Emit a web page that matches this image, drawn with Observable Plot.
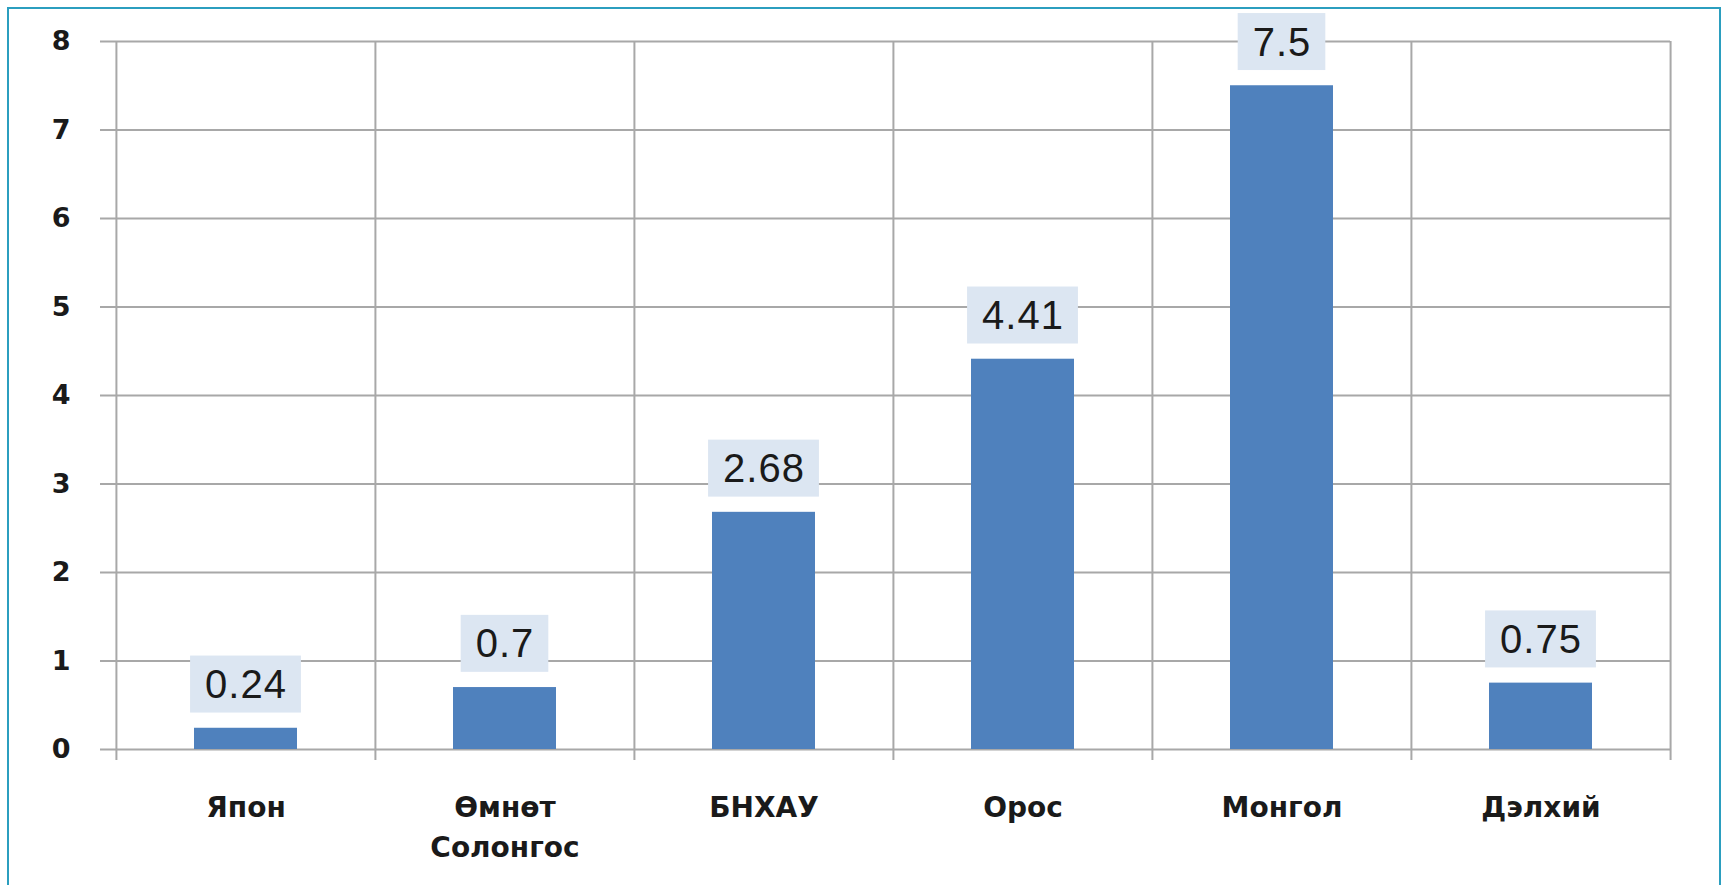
<!DOCTYPE html>
<html><head><meta charset="utf-8">
<script src="https://cdn.jsdelivr.net/npm/d3@7"></script>
<script src="https://cdn.jsdelivr.net/npm/@observablehq/plot@0.6"></script>
<style>
html,body{margin:0;padding:0;background:#fff;}
#wrap{position:relative;width:1725px;height:885px;overflow:hidden;}
#border{position:absolute;left:7px;top:7px;width:1714px;height:900px;border:2px solid #2B9EBF;box-sizing:border-box;pointer-events:none;}
</style></head><body>
<div id="wrap"><div id="chart"></div><div id="border"></div></div>
<script>
const categories = ["Япон", "Өмнөт\nСолонгос", "БНХАУ", "Орос", "Монгол", "Дэлхий"];
const values = [0.24, 0.7, 2.68, 4.41, 7.5, 0.75];
const valueLabels = ["0.24", "0.7", "2.68", "4.41", "7.5", "0.75"];
const yTicks = [0, 1, 2, 3, 4, 5, 6, 7, 8];

const data = categories.map((c, i) => ({cat: c, value: values[i], label: valueLabels[i]}));

const W = 1725, H = 885, ML = 115, MR = 55, MT = 41, MB = 136;
const bw = (W - ML - MR) / categories.length;
const gridColor = "#A8A8A8";

const chart = Plot.plot({
  width: W, height: H,
  marginLeft: ML, marginRight: MR, marginTop: MT, marginBottom: MB,
  x: {domain: categories, padding: 0},
  y: {domain: [0, 8]},
  style: {background: "transparent"},
  marks: [
    Plot.ruleY(yTicks, {stroke: gridColor, strokeWidth: 2, insetLeft: -15}),
    Plot.ruleX(categories, {x: d => d, dx: -bw / 2, stroke: gridColor, strokeWidth: 2, insetBottom: -11}),
    Plot.ruleX([categories[categories.length - 1]], {x: d => d, dx: bw / 2, stroke: gridColor, strokeWidth: 2, insetBottom: -11}),
    Plot.barY(data, {x: "cat", y: "value", fill: "#4F81BD", insetLeft: 78, insetRight: 78}),
    Plot.axisY({ticks: yTicks, tickSize: 0, tickPadding: 45, label: null,
      fontSize: 27, fontWeight: "bold", fontFamily: "DejaVu Sans", fill: "#1a1a1a"}),
    Plot.axisX({tickSize: 0, tickPadding: 40, label: null, lineHeight: 1.4,
      fontSize: 28, fontWeight: "bold", fontFamily: "DejaVu Sans", fill: "#1a1a1a"}),
    Plot.text(data, {x: "cat", y: "value", text: "label", dy: -43,
      fontSize: 40, fontFamily: "Liberation Sans, Arial, sans-serif", fill: "#1a1a1a",
      className: "vlabels"})
  ]
});
document.getElementById("chart").appendChild(chart);

// light-blue label boxes behind the value labels
d3.select(chart).selectAll("g.vlabels text").each(function() {
  this.style.letterSpacing = "1px";
  const bb = this.getBBox();
  const cy = bb.y + bb.height / 2;
  const r = document.createElementNS("http://www.w3.org/2000/svg", "rect");
  r.setAttribute("x", bb.x - 15);
  r.setAttribute("width", bb.width + 29);
  r.setAttribute("y", cy - 28.5);
  r.setAttribute("height", 57);
  r.setAttribute("fill", "#DCE6F2");
  const t = this.getAttribute("transform");
  if (t) r.setAttribute("transform", t);
  this.parentNode.insertBefore(r, this);
});
</script>
</body></html>
